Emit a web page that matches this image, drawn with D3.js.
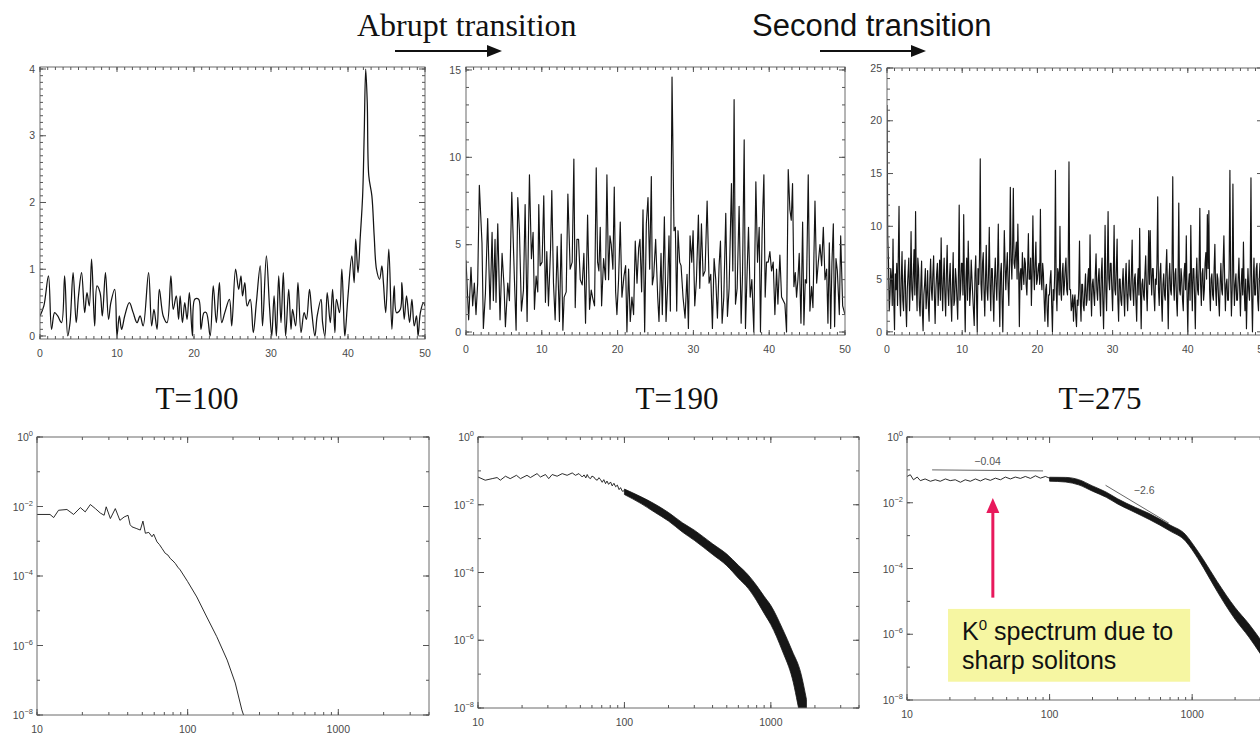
<!DOCTYPE html>
<html><head><meta charset="utf-8">
<script src="https://cdn.jsdelivr.net/npm/d3@7"></script>
<style>body{margin:0;background:#fff}svg{display:block}</style>
</head><body>
<svg id="fig" width="1260" height="734"></svg>
<script>
// ---------- data ----------
const panelTitles = ["T=100", "T=190", "T=275"];
const xTicksLinear = [0, 10, 20, 30, 40, 50];
const yTicksT100 = [0, 1, 2, 3, 4];
const yTicksT190 = [0, 5, 10, 15];
const yTicksT275 = [0, 5, 10, 15, 20, 25];
const xTicksLog = [10, 100, 1000];
const yExpLog = [0, -2, -4, -6, -8];

// wave amplitude profile at T=100
const t100X = [0.0,0.5,1.1,1.5,1.9,2.3,2.8,3.2,3.6,3.9,4.3,4.7,5.0,5.4,5.8,6.1,6.4,6.7,7.1,7.4,7.8,8.1,8.5,8.9,9.2,9.7,10.0,10.3,10.6,11.0,11.6,12.1,12.6,13.0,13.4,14.1,14.5,14.8,15.2,15.5,16.0,16.5,17.0,17.3,17.7,18.0,18.2,18.5,18.8,19.1,19.4,19.8,20.1,20.6,20.9,21.3,21.6,22.1,22.5,22.9,23.3,23.6,24.0,24.6,24.9,25.4,25.8,26.1,26.3,26.6,26.9,27.3,27.7,28.1,28.6,28.9,29.4,29.8,30.1,30.4,30.7,31.0,31.3,31.6,31.9,32.3,32.6,32.8,33.2,33.5,33.9,34.3,34.6,35.0,35.3,35.7,36.0,36.5,36.7,37.0,37.3,37.7,38.0,38.3,38.5,38.9,39.2,39.5,39.6,40.0,40.5,40.8,41.0,41.3,41.6,41.9,42.1,42.3,42.5,42.7,43.1,43.4,43.7,44.1,44.4,44.6,44.9,45.3,45.7,46.0,46.3,46.8,47.0,47.3,47.6,48.0,48.3,48.6,48.9,49.1,49.4,49.8,50.0];
const t100Y = [0.3,0.45,0.9,0.1,0.35,0.3,0.2,0.9,0.0,0.2,0.95,0.2,0.6,0.95,0.35,0.65,0.45,1.15,0.15,0.75,0.65,0.3,0.95,0.25,0.5,0.7,0.0,0.3,0.1,0.3,0.5,0.35,0.2,0.3,0.15,0.95,0.15,0.4,0.1,0.7,0.3,0.2,0.9,0.4,0.6,0.25,0.6,0.2,0.5,0.25,0.65,0.0,0.55,0.55,0.1,0.35,0.35,0.0,0.75,0.2,0.8,0.2,0.35,0.55,0.15,1.0,0.7,0.9,0.6,0.8,0.45,0.55,0.05,0.5,1.05,0.15,1.2,0.45,0.0,0.6,0.0,0.9,0.2,0.95,0.0,0.7,0.1,0.4,0.15,0.8,0.05,0.35,0.25,0.7,0.35,0.0,0.3,0.55,0.2,0.0,0.65,0.2,0.7,0.05,0.55,0.35,1.0,0.15,0.0,0.6,1.2,0.8,1.45,0.95,1.5,2.1,3.0,4.0,3.5,2.4,2.1,1.5,1.0,0.85,1.05,0.8,0.35,1.3,0.1,0.75,0.35,0.4,0.8,0.25,0.6,0.2,0.55,0.15,0.3,0.0,0.35,0.5,0.45];

// wave amplitude profile at T=190
const t190X = [0.00,0.35,0.66,0.88,1.10,1.32,1.54,1.76,2.11,2.29,2.56,2.86,3.17,3.44,3.61,3.83,3.96,4.19,4.49,4.76,5.02,5.20,5.51,5.73,6.04,6.39,6.61,6.83,7.05,7.31,7.58,7.80,8.06,8.37,8.63,8.85,9.03,9.25,9.47,9.60,9.78,10.04,10.26,10.48,10.66,10.88,11.15,11.32,11.54,11.76,12.03,12.33,12.56,12.78,12.95,13.22,13.44,13.74,14.01,14.23,14.41,14.63,14.85,15.07,15.33,15.55,15.77,16.04,16.30,16.52,16.74,16.96,17.18,17.36,17.53,17.71,17.89,18.15,18.41,18.59,18.81,18.99,19.16,19.38,19.56,19.74,19.91,20.13,20.35,20.57,20.84,21.06,21.23,21.45,21.67,21.89,22.11,22.33,22.56,22.78,22.95,23.17,23.35,23.57,23.79,24.01,24.23,24.45,24.58,24.76,25.02,25.29,25.46,25.73,25.90,26.17,26.39,26.61,26.78,26.96,27.18,27.44,27.62,27.80,27.97,28.19,28.37,28.63,28.90,29.16,29.34,29.56,29.78,29.96,30.18,30.40,30.66,30.84,31.06,31.28,31.54,31.81,32.07,32.29,32.51,32.73,32.95,33.17,33.39,33.57,33.79,34.01,34.27,34.49,34.71,35.02,35.20,35.37,35.55,35.77,36.03,36.30,36.48,36.70,36.87,37.09,37.27,37.49,37.71,37.97,38.24,38.46,38.68,38.85,39.07,39.30,39.47,39.65,39.87,40.09,40.31,40.53,40.75,40.97,41.15,41.41,41.63,41.85,42.07,42.29,42.51,42.73,42.91,43.08,43.26,43.44,43.61,43.79,43.96,44.19,44.41,44.58,44.76,44.93,45.15,45.37,45.59,45.77,46.04,46.26,46.48,46.70,46.92,47.14,47.36,47.58,47.75,47.93,48.11,48.28,48.46,48.63,48.81,48.99,49.25,49.43,49.69,50.00];
const t190Y = [4.1,0.7,3.7,1.5,2.8,1.0,2.8,8.4,5.1,0.2,2.2,6.5,1.3,5.7,1.8,5.3,1.7,6.2,0.7,4.5,2.6,0.3,2.8,1.8,8.0,3.0,0.1,7.7,5.8,1.2,2.4,7.3,0.6,9.0,4.2,5.7,1.3,3.2,2.3,7.3,3.8,4.0,7.8,1.7,4.6,1.5,4.7,8.1,2.8,0.7,4.9,0.6,5.6,0.1,2.0,2.3,7.9,3.6,4.0,9.9,1.4,5.3,5.3,3.0,2.7,4.5,0.5,6.7,1.3,2.4,1.9,1.5,9.4,4.0,3.5,6.0,1.5,4.2,3.0,9.0,3.0,5.5,5.0,3.6,8.3,2.3,1.0,3.0,6.3,2.0,3.2,3.8,0.0,3.6,0.6,2.0,1.0,5.2,2.8,4.8,5.3,2.3,7.0,0.0,6.2,7.7,3.6,8.9,2.7,3.2,5.3,2.0,0.6,4.5,1.0,6.6,0.6,2.8,5.5,1.2,14.6,5.8,6.0,1.2,5.8,4.0,3.8,2.0,0.8,3.3,0.2,5.5,4.0,5.8,1.5,3.0,6.7,2.5,6.2,3.2,3.5,7.5,2.8,3.3,0.2,4.2,3.0,0.8,3.8,5.2,0.5,2.0,6.8,0.9,2.5,8.5,3.5,13.3,1.6,2.5,7.2,0.5,3.3,11.0,0.2,3.5,6.0,2.0,3.0,0.0,8.6,4.0,6.0,0.0,5.8,9.0,2.0,4.0,4.0,4.6,3.5,4.0,1.0,3.6,1.6,4.4,2.0,1.8,1.6,0.0,9.3,7.0,6.4,8.5,2.6,3.4,2.0,3.0,4.5,0.5,6.3,0.4,3.0,2.8,9.0,1.2,2.6,1.4,7.5,2.8,4.0,5.0,3.8,6.0,3.0,3.6,0.5,5.1,0.2,4.0,6.2,0.3,4.2,3.5,1.0,5.5,1.5,1.0];

// wave amplitude profile at T=275, sampled every 0.1
const t275Step = 0.1;
const t275Y = [
 21.5,9.0,6.5,2.0,3.5,6.0,5.2,2.5,8.8,3.0, 0.2,5.5,4.0,6.5,2.5,7.0,11.9,3.5,1.5,5.0,
 7.6,3.0,2.0,5.0,6.8,2.5,0.5,4.0,5.5,7.0, 2.0,4.5,9.5,4.0,3.0,5.5,7.8,3.5,11.4,4.5,
 2.0,7.0,6.0,2.5,1.5,4.5,6.7,2.0,0.1,3.5, 4.5,6.0,2.2,3.5,5.8,2.5,1.0,5.0,6.9,4.0,
 3.0,5.5,7.2,3.5,0.8,4.0,5.5,6.5,2.5,4.5, 6.8,3.0,8.9,4.5,2.0,5.0,7.0,3.5,1.5,5.5,
 8.2,4.0,2.5,5.0,6.5,3.0,1.0,4.5,7.5,2.5, 3.0,6.0,5.0,3.0,1.2,5.5,12.0,3.0,4.0,6.5,
 6.5,3.5,11.1,4.0,0.0,5.0,7.0,3.0,8.6,5.5, 2.5,4.0,6.8,5.0,3.5,2.0,0.6,5.5,7.2,3.5,
 0.0,6.0,4.5,7.0,16.4,4.5,3.0,6.5,7.5,4.0, 1.5,5.0,8.2,4.0,3.0,5.5,9.9,4.5,2.0,6.0,
 6.0,3.5,1.0,5.0,7.0,4.5,3.0,6.0,10.2,4.0, 0.5,5.5,6.5,3.0,0.0,5.0,9.6,6.5,4.0,6.0,
 7.5,4.5,2.5,6.5,13.7,7.0,5.0,8.0,13.6,6.5, 6.0,7.5,8.5,5.0,10.2,6.5,0.5,5.5,6.0,4.0,
 7.5,5.5,4.5,7.0,6.5,4.5,3.5,6.0,9.3,5.0, 5.0,7.0,2.5,5.5,11.0,6.0,4.0,6.5,8.5,4.5,
 5.0,6.0,6.5,4.5,11.6,5.0,4.0,6.5,5.5,3.0, 1.0,4.0,4.5,2.0,0.5,3.5,3.5,5.0,5.8,2.5,
 0.0,4.0,3.0,5.5,15.3,4.0,2.0,6.0,5.5,3.5, 10.0,4.0,3.0,5.5,6.5,3.5,4.5,6.0,7.0,4.0,
 3.5,6.5,16.1,4.0,4.0,2.0,2.5,3.5,1.0,3.0, 3.5,1.5,0.5,3.0,2.5,4.0,8.6,3.0,1.0,4.5,
 4.5,2.5,2.0,4.0,5.5,2.5,3.0,5.0,6.0,3.0, 9.2,4.0,1.5,4.5,5.0,3.5,2.5,5.5,7.4,4.0,
 3.0,5.0,6.0,3.5,1.5,5.5,7.0,3.0,0.3,4.5, 10.1,4.0,2.0,6.0,11.4,5.0,4.0,6.5,6.5,4.0,
 2.0,5.5,10.1,4.0,3.5,6.0,8.8,3.0,1.0,5.0, 5.0,3.0,2.5,4.5,6.0,3.5,1.5,5.0,6.5,3.5,
 2.0,4.5,6.8,3.5,3.0,5.5,8.7,4.0,2.5,5.0, 5.5,3.0,1.0,4.5,6.0,3.5,9.8,4.0,0.3,4.5,
 5.0,3.5,3.0,5.5,7.2,4.0,2.0,5.0,9.6,4.5, 9.6,5.5,3.5,6.0,6.0,3.5,2.0,5.0,4.5,6.5,
 12.8,4.0,2.5,5.5,6.5,3.0,1.0,4.5,5.5,3.5, 3.0,6.0,7.8,4.0,0.3,5.0,6.5,4.0,3.5,6.0,
 14.7,4.5,3.0,5.5,6.0,3.0,1.5,5.0,12.2,4.0, 3.5,6.0,5.0,3.0,2.0,5.5,6.5,4.0,9.1,3.5,
 0.0,4.5,5.5,3.0,10.1,5.0,2.0,6.0,6.0,3.5, 0.3,5.0,7.0,4.0,3.5,6.0,11.7,4.5,2.5,5.5,
 6.0,3.0,4.0,6.5,7.5,5.0,11.1,6.0,11.5,4.0, 2.0,5.0,5.5,3.5,3.0,6.0,8.3,4.0,2.5,5.5,
 5.0,3.0,1.5,4.5,6.5,4.0,3.5,6.5,9.1,5.0, 2.0,4.5,5.0,3.0,3.0,6.0,15.3,5.0,1.5,4.0,
 14.0,5.5,2.5,4.5,5.5,3.0,3.0,5.0,7.0,4.0, 1.5,4.5,6.0,3.5,8.5,4.0,2.0,5.0,0.3,3.5,
 6.0,4.0,3.0,5.5,14.6,3.5,0.0,4.5,7.0,3.5, 3.5,6.0,6.5,3.0,2.0,5.0,6.5,3.0,4.5,5.5,
 4.0];

// wavenumber spectra
const spec100K = [10,12.2,12.9,13.9,15.8,17.5,19.4,20.9,22.6,24.4,26.3,27.9,28.8,30.7,33.1,35.5,37.9,40.2,41.5,42.7,46,48.5,50.5,52.4,55.2,58,59.5,62.6,65,67.6,71,74,76.6,80,82.8,86,89.2,100,115,134,156,183,207,229,235];
const spec100E = [5.9e-3,5.9e-3,4.8e-3,7.8e-3,8.2e-3,5.9e-3,9.3e-3,7.0e-3,1.14e-2,8.7e-3,6.5e-3,5.6e-3,9.8e-3,4.5e-3,8.7e-3,4.0e-3,5.0e-3,5.6e-3,3.0e-3,2.6e-3,2.3e-3,2.1e-3,3.8e-3,1.7e-3,1.8e-3,1.35e-3,1.6e-3,9.6e-4,8.0e-4,6.2e-4,4.5e-4,4.0e-4,3.2e-4,2.7e-4,2.3e-4,1.8e-4,1.5e-4,6.9e-5,2.5e-5,6.6e-6,1.8e-6,3.8e-7,8.3e-8,1.4e-8,1.0e-8];

const spec190K = [10,11.2,12.5,13.5,14.2,15.4,16.6,18.3,19.5,21.6,22.8,25.3,26.7,28.9,30.4,32.1,34.7,37.6,40.6,44.0,46.3,48.9,51.5,53,54.5,55.7,57,58.7,60,61.8,63.5,65.2,67,68.7,70.5,72.3,74.3,76,78,80.4,82.5,84.8,87.1,89.5,92,94.1,96.8,100];
const spec190E = [6.6e-2,5.3e-2,5.9e-2,6.35e-2,5.3e-2,6.95e-2,5.9e-2,7.4e-2,5.9e-2,7.4e-2,6.35e-2,8.3e-2,6.6e-2,7.8e-2,5.9e-2,7.8e-2,6.95e-2,8.3e-2,7.4e-2,8.7e-2,7.4e-2,8.3e-2,6.6e-2,7.6e-2,6.2e-2,7.8e-2,6.4e-2,5.9e-2,7.0e-2,6.6e-2,5.6e-2,5.3e-2,6.3e-2,5.5e-2,4.6e-2,5.5e-2,4.2e-2,5.0e-2,4.0e-2,4.7e-2,3.6e-2,4.3e-2,3.4e-2,3.8e-2,2.8e-2,3.2e-2,2.5e-2,2.6e-2];
// spread of the noisy high-k part (lower and upper envelope)
const band190K = [100,130,160,200,250,300,400,500,600,700,800,900,1000,1200,1400,1600,1750];
const band190Hi = [2.9e-2,1.71e-2,1.07e-2,5.9e-3,2.9e-3,1.78e-3,7.0e-4,3.5e-4,1.63e-4,8.5e-5,4.1e-5,1.98e-5,1.06e-5,2.2e-6,4.8e-7,1.1e-7,1.8e-8];
const band190Lo = [2.0e-2,1.08e-2,6.1e-3,3.3e-3,1.54e-3,8.9e-4,3.4e-4,1.59e-4,6.8e-5,3.4e-5,1.47e-5,6.2e-6,2.9e-6,4.8e-7,7.6e-8,5e-9,1e-9];

const spec275K = [10,10.55,11.1,11.8,12.4,13.4,14.6,15.8,17.1,18.6,20.1,21.8,23.7,25.6,27.8,30.2,32.7,35.4,38.4,41.7,45.2,49.0,53.1,57.5,62.4,67.6,73.4,79.6,86.2,93.5,100];
const spec275E = [6.3e-2,7.1e-2,5.0e-2,6.05e-2,4.7e-2,5.3e-2,4.5e-2,5.0e-2,4.5e-2,5.3e-2,4.7e-2,5.0e-2,4.2e-2,5.0e-2,4.5e-2,5.3e-2,4.6e-2,5.4e-2,4.8e-2,5.6e-2,5.0e-2,6.05e-2,5.3e-2,6.05e-2,5.5e-2,6.3e-2,5.5e-2,6.6e-2,5.6e-2,6.3e-2,5.6e-2];
const band275K = [100,130,160,200,250,300,400,500,700,900,1000,1200,1500,2000,2500,3000,3500];
const band275Hi = [5.97e-2,5.9e-2,5.05e-2,3.25e-2,2.1e-2,1.32e-2,7.2e-3,4.7e-3,2.1e-3,1.07e-3,5.9e-4,1.85e-4,3.96e-5,6.5e-6,2.06e-6,7.1e-7,2.8e-7];
const band275Lo = [4.53e-2,4.26e-2,3.5e-2,2.25e-2,1.46e-2,9.2e-3,5.0e-3,3.1e-3,1.38e-3,6.75e-4,3.7e-4,1.06e-4,1.98e-5,2.84e-6,8.2e-7,2.6e-7,9.2e-8];

// fitted power-law slopes shown on the T=275 spectrum
const fitSlopes = [-0.04, -2.6];
const fitRangesK = [[15, 90], [247, 686]];
const fitStartE = [0.1, 3.4e-2];

// ---------- layout ----------
const svg = d3.select("#fig");
const topPanels = [
  {l: 40, r: 425, t: 67, b: 339, yDom: [-0.045, 4.03], yMinor: 0.1, yMax: 4},
  {l: 466, r: 845, t: 67, b: 335, yDom: [-0.17, 15.17], yMinor: 1, yMax: 15},
  {l: 887, r: 1263, t: 68, b: 335, yDom: [-0.3, 25], yMinor: 1, yMax: 25}
];
const botPanels = [
  {l: 37, r: 429, t: 437, b: 715},
  {l: 478, r: 859, t: 437, b: 708},
  {l: 907, r: 1278, t: 437, b: 700}
];
const frameColor = "#6a6a6a";
const tickColor = "#555";
const labelColor = "#4a4a4a";
const lineColor = "#141414";
const sans = "'Liberation Sans', Arial, sans-serif";
let clipCount = 0;

function addClip(p) {
  const id = "plotclip" + (clipCount++);
  svg.append("clipPath").attr("id", id).append("rect")
    .attr("x", p.l).attr("y", p.t).attr("width", p.r - p.l).attr("height", p.b - p.t);
  return `url(#${id})`;
}

function frame(g, p) {
  g.append("rect").attr("x", p.l).attr("y", p.t).attr("width", p.r - p.l).attr("height", p.b - p.t)
    .attr("fill", "none").attr("stroke", frameColor).attr("stroke-width", 1);
}

// inward ticks on a pair of opposite sides
function xTickMarks(g, p, x, vals, len) {
  vals.forEach(v => {
    const px = x(v);
    g.append("line").attr("x1", px).attr("x2", px).attr("y1", p.b).attr("y2", p.b - len)
      .attr("stroke", tickColor).attr("stroke-width", 1);
    g.append("line").attr("x1", px).attr("x2", px).attr("y1", p.t).attr("y2", p.t + len)
      .attr("stroke", tickColor).attr("stroke-width", 1);
  });
}
function yTickMarks(g, p, y, vals, len) {
  vals.forEach(v => {
    const py = y(v);
    g.append("line").attr("y1", py).attr("y2", py).attr("x1", p.l).attr("x2", p.l + len)
      .attr("stroke", tickColor).attr("stroke-width", 1);
    g.append("line").attr("y1", py).attr("y2", py).attr("x1", p.r).attr("x2", p.r - len)
      .attr("stroke", tickColor).attr("stroke-width", 1);
  });
}

function linearPanel(p, pts, yTicks, curve, sw) {
  const x = d3.scaleLinear().domain([0, 50]).range([p.l, p.r]);
  const y = d3.scaleLinear().domain(p.yDom).range([p.b, p.t]);
  const g = svg.append("g");
  const clip = addClip(p);
  g.append("path").datum(pts).attr("clip-path", clip)
    .attr("fill", "none").attr("stroke", lineColor).attr("stroke-width", sw)
    .attr("stroke-linejoin", "round")
    .attr("d", d3.line().x(d => x(d[0])).y(d => y(d[1])).curve(curve));
  frame(g, p);
  xTickMarks(g, p, x, d3.range(0, 50.001, 1), 3);
  xTickMarks(g, p, x, xTicksLinear, 5);
  const nMinor = Math.round(p.yMax / p.yMinor);
  yTickMarks(g, p, y, d3.range(0, nMinor + 1).map(i => i * p.yMinor), 3);
  yTickMarks(g, p, y, yTicks, 6);
  const lab = g.append("g").attr("font-family", sans).attr("font-size", 10.5).attr("fill", labelColor);
  xTicksLinear.forEach(v => lab.append("text").attr("x", x(v)).attr("y", p.b + 18)
    .attr("text-anchor", "middle").text(v));
  yTicks.forEach(v => lab.append("text").attr("x", p.l - 5).attr("y", y(v))
    .attr("dy", "0.35em").attr("text-anchor", "end").text(v));
  return {x, y};
}

function logPanel(p, lineK, lineE, bandK, bandLo, bandHi) {
  const x = d3.scaleLog().domain([10, 4000]).range([p.l, p.r]);
  const y = d3.scaleLog().domain([1e-8, 1]).range([p.b, p.t]);
  const g = svg.append("g");
  const clip = addClip(p);
  if (bandK) {
    const band = bandK.map((k, i) => [k, bandLo[i], bandHi[i]]);
    g.append("path").datum(band).attr("clip-path", clip)
      .attr("fill", "#161616").attr("stroke", "#161616").attr("stroke-width", 0.8)
      .attr("d", d3.area().x(d => x(d[0])).y0(d => y(d[1])).y1(d => y(d[2])).curve(d3.curveMonotoneX));
  }
  const pts = lineK.map((k, i) => [k, lineE[i]]);
  g.append("path").datum(pts).attr("clip-path", clip)
    .attr("fill", "none").attr("stroke", lineColor).attr("stroke-width", 0.9)
    .attr("stroke-linejoin", "round")
    .attr("d", d3.line().x(d => x(d[0])).y(d => y(d[1])));
  frame(g, p);
  xTickMarks(g, p, x, x.ticks(), 3);
  xTickMarks(g, p, x, xTicksLog, 6);
  yTickMarks(g, p, y, d3.range(0, 9).map(i => Math.pow(10, -i)), 3);
  yTickMarks(g, p, y, yExpLog.map(e => Math.pow(10, e)), 6);
  const lab = g.append("g").attr("font-family", sans).attr("fill", labelColor);
  xTicksLog.forEach(v => lab.append("text").attr("x", x(v)).attr("y", p.b + 18)
    .attr("font-size", 10.5).attr("text-anchor", "middle").text(v));
  yExpLog.forEach(e => {
    const t = lab.append("text").attr("x", p.l - 4).attr("y", y(Math.pow(10, e)) + 4)
      .attr("font-size", 10.5).attr("text-anchor", "end");
    t.append("tspan").text("10");
    t.append("tspan").attr("font-size", 7.5).attr("dy", -5).text(e === 0 ? "0" : "\u2212" + (-e));
  });
  return {x, y, g};
}

// ---------- top row: amplitude profiles ----------
linearPanel(topPanels[0], t100X.map((v, i) => [v, t100Y[i]]), yTicksT100, d3.curveCatmullRom.alpha(0.5), 1.25);
const n190 = Math.min(t190X.length, t190Y.length);
linearPanel(topPanels[1], d3.range(n190).map(i => [t190X[i], t190Y[i]]), yTicksT190, d3.curveLinear, 1.15);
linearPanel(topPanels[2], t275Y.map((v, i) => [i * t275Step, v]), yTicksT275, d3.curveLinear, 1.15);

// ---------- bottom row: spectra ----------
logPanel(botPanels[0], spec100K, spec100E);
logPanel(botPanels[1], spec190K, spec190E, band190K, band190Lo, band190Hi);
const s275 = logPanel(botPanels[2], spec275K, spec275E, band275K, band275Lo, band275Hi);

// power-law fit segments and their slopes
fitSlopes.forEach((s, i) => {
  const [k0, k1] = fitRangesK[i];
  const e0 = fitStartE[i];
  const e1 = e0 * Math.pow(k1 / k0, s);
  const x0 = s275.x(k0), x1 = s275.x(k1), y0 = s275.y(e0), y1 = s275.y(e1);
  s275.g.append("line").attr("x1", x0).attr("y1", y0).attr("x2", x1).attr("y2", y1)
    .attr("stroke", "#555").attr("stroke-width", 0.9);
  const mx = (x0 + x1) / 2, my = (y0 + y1) / 2;
  s275.g.append("text").attr("x", i === 0 ? mx : mx + 7).attr("y", i === 0 ? my - 5 : my - 10)
    .attr("text-anchor", "middle").attr("font-family", sans)
    .attr("font-size", 10.5).attr("fill", "#555").text("\u2212" + Math.abs(s));
});

// callout: red arrow and yellow note
const noteK = 40;
const ax = s275.x(noteK), aTip = s275.y(1.4e-2), aTail = s275.y(1.3e-5);
svg.append("line").attr("x1", ax).attr("x2", ax).attr("y1", aTail).attr("y2", aTip + 12)
  .attr("stroke", "#e8195c").attr("stroke-width", 3);
svg.append("path").attr("d", `M${ax},${aTip} L${ax - 6.5},${aTip + 15} L${ax + 6.5},${aTip + 15} Z`)
  .attr("fill", "#e8195c");
const boxX0 = s275.x(19.4), boxX1 = s275.x(968), boxY0 = s275.y(5.9e-6), boxY1 = s275.y(3.6e-8);
svg.append("rect").attr("x", boxX0).attr("y", boxY0).attr("width", boxX1 - boxX0).attr("height", boxY1 - boxY0)
  .attr("fill", "#f6f6a2");
const note = svg.append("g").attr("font-family", sans).attr("font-size", 25).attr("fill", "#111");
const l1 = note.append("text").attr("x", boxX0 + 14).attr("y", boxY0 + 31);
l1.append("tspan").text("K");
l1.append("tspan").attr("font-size", 15).attr("dy", -10).text("0");
l1.append("tspan").attr("dy", 10).text(" spectrum due to");
note.append("text").attr("x", boxX0 + 14).attr("y", boxY0 + 60).text("sharp solitons");

// ---------- titles and transition arrows ----------
const serif = "'Liberation Serif', 'Times New Roman', serif";
const titleX = [197, 677, 1100];
panelTitles.forEach((t, i) => svg.append("text").attr("x", titleX[i]).attr("y", 409)
  .attr("text-anchor", "middle").attr("font-family", serif).attr("font-size", 31)
  .attr("fill", "#111").text(t));

svg.append("text").attr("x", 357).attr("y", 36).attr("font-family", serif)
  .attr("font-size", 32).attr("fill", "#111").text("Abrupt transition");
svg.append("text").attr("x", 752).attr("y", 36).attr("font-family", sans)
  .attr("font-size", 31).attr("fill", "#111").text("Second transition");

[[395, 502], [820, 926]].forEach(([a, b]) => {
  svg.append("line").attr("x1", a).attr("x2", b - 12).attr("y1", 51).attr("y2", 51)
    .attr("stroke", "#111").attr("stroke-width", 2);
  svg.append("path").attr("d", `M${b},51 L${b - 15},45 L${b - 15},57 Z`).attr("fill", "#111");
});
</script>
</body></html>
